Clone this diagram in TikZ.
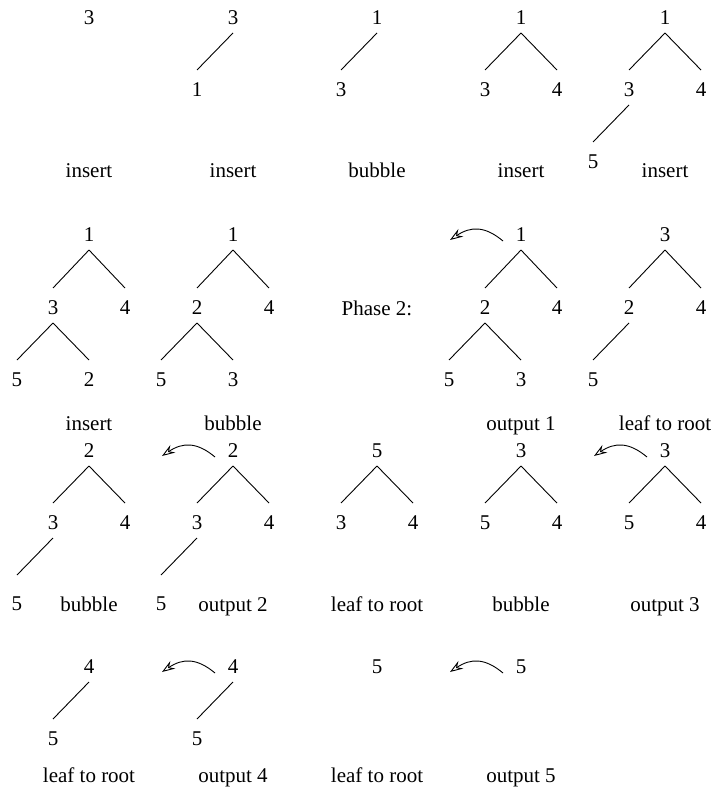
\documentclass[tikz,border=0pt]{standalone}
\usepackage{fontspec}
\setmainfont{Liberation Serif}
\usetikzlibrary{arrows.meta}

% edge from a parent key down to a child key
\newcommand\tedge[3][20pt]{\draw ([yshift=-15pt]#2.center) -- ([yshift=#1]#3.center);}
% curved arrow showing the root being sent to the output
\newcommand\outarrow[1]{\draw[outarr] ([shift={(-18pt,-6pt)}]#1.center)
  .. controls ([shift={(-36pt,9pt)}]#1.center) and ([shift={(-50pt,9pt)}]#1.center)
  .. ([shift={(-71pt,-5pt)}]#1.center);}

\begin{document}
\begin{tikzpicture}[x=1pt,y=-1pt,
  every node/.style={font=\fontsize{21}{25}\selectfont},
  key/.style={inner sep=0pt},
  steplabel/.style={inner sep=0pt,anchor=base},
  every path/.style={line width=0.9pt},
  outarr/.style={-{Stealth[open,length=13pt,width=9pt,inset=4.5pt]}}]
\useasboundingbox (0,0) rectangle (719,799);

% ---------- row 1 ----------
\node[key] (a1) at (89,18) {3};
\node[steplabel] (la) at (89,178) {insert};

\node[key] (b1) at (233,18) {3};
\node[key] (b2) at (197,90) {1};
\tedge{b1}{b2}
\node[steplabel] (lb) at (233,178) {insert};

\node[key] (c1) at (377,18) {1};
\node[key] (c2) at (341,90) {3};
\tedge{c1}{c2}
\node[steplabel] (lc) at (377,178) {bubble};

\node[key] (d1) at (521,18) {1};
\node[key] (d2) at (485,90) {3};
\node[key] (d3) at (557,90) {4};
\tedge{d1}{d2}\tedge{d1}{d3}
\node[steplabel] (ld) at (521,178) {insert};

\node[key] (e1) at (665,18) {1};
\node[key] (e2) at (629,90) {3};
\node[key] (e3) at (701,90) {4};
\node[key] (e4) at (593,162) {5};
\tedge{e1}{e2}\tedge{e1}{e3}\tedge{e2}{e4}
\node[steplabel] (le) at (665,178) {insert};

% ---------- row 2 ----------
\node[key] (f1) at (89,235) {1};
\node[key] (f2) at (53,308) {3};
\node[key] (f3) at (125,308) {4};
\node[key] (f4) at (17,380) {5};
\node[key] (f5) at (89,380) {2};
\tedge{f1}{f2}\tedge{f1}{f3}\tedge{f2}{f4}\tedge{f2}{f5}
\node[steplabel] (lf) at (89,430) {insert};

\node[key] (g1) at (233,235) {1};
\node[key] (g2) at (197,308) {2};
\node[key] (g3) at (269,308) {4};
\node[key] (g4) at (161,380) {5};
\node[key] (g5) at (233,380) {3};
\tedge{g1}{g2}\tedge{g1}{g3}\tedge{g2}{g4}\tedge{g2}{g5}
\node[steplabel] (lg) at (233,430) {bubble};

\node[steplabel] (phase) at (377,315) {Phase 2:};

\node[key] (h1) at (521,235) {1};
\node[key] (h2) at (485,308) {2};
\node[key] (h3) at (557,308) {4};
\node[key] (h4) at (449,380) {5};
\node[key] (h5) at (521,380) {3};
\tedge{h1}{h2}\tedge{h1}{h3}\tedge{h2}{h4}\tedge{h2}{h5}
\outarrow{h1}
\node[steplabel] (lh) at (521,430) {output 1};

\node[key] (i1) at (665,235) {3};
\node[key] (i2) at (629,308) {2};
\node[key] (i3) at (701,308) {4};
\node[key] (i4) at (593,380) {5};
\tedge{i1}{i2}\tedge{i1}{i3}\tedge{i2}{i4}
\node[steplabel] (li) at (665,430) {leaf to root};

% ---------- row 3 ----------
\node[key] (j1) at (89,451) {2};
\node[key] (j2) at (53,523) {3};
\node[key] (j3) at (125,523) {4};
\node[key] (j4) at (17,604) {5};
\tedge{j1}{j2}\tedge{j1}{j3}\tedge[29pt]{j2}{j4}
\node[steplabel] (lj) at (89,611) {bubble};

\node[key] (k1) at (233,451) {2};
\node[key] (k2) at (197,523) {3};
\node[key] (k3) at (269,523) {4};
\node[key] (k4) at (161,604) {5};
\tedge{k1}{k2}\tedge{k1}{k3}\tedge[29pt]{k2}{k4}
\outarrow{k1}
\node[steplabel] (lk) at (233,611) {output 2};

\node[key] (l1) at (377,451) {5};
\node[key] (l2) at (341,523) {3};
\node[key] (l3) at (413,523) {4};
\tedge{l1}{l2}\tedge{l1}{l3}
\node[steplabel] (ll) at (377,611) {leaf to root};

\node[key] (m1) at (521,451) {3};
\node[key] (m2) at (485,523) {5};
\node[key] (m3) at (557,523) {4};
\tedge{m1}{m2}\tedge{m1}{m3}
\node[steplabel] (lm) at (521,611) {bubble};

\node[key] (n1) at (665,451) {3};
\node[key] (n2) at (629,523) {5};
\node[key] (n3) at (701,523) {4};
\tedge{n1}{n2}\tedge{n1}{n3}
\outarrow{n1}
\node[steplabel] (ln) at (665,611) {output 3};

% ---------- row 4 ----------
\node[key] (o1) at (89,667) {4};
\node[key] (o2) at (53,739) {5};
\tedge{o1}{o2}
\node[steplabel] (lo) at (89,782) {leaf to root};

\node[key] (p1) at (233,667) {4};
\node[key] (p2) at (197,739) {5};
\tedge{p1}{p2}
\outarrow{p1}
\node[steplabel] (lp) at (233,782) {output 4};

\node[key] (q1) at (377,667) {5};
\node[steplabel] (lq) at (377,782) {leaf to root};

\node[key] (r1) at (521,667) {5};
\outarrow{r1}
\node[steplabel] (lr) at (521,782) {output 5};
\end{tikzpicture}
\end{document}
